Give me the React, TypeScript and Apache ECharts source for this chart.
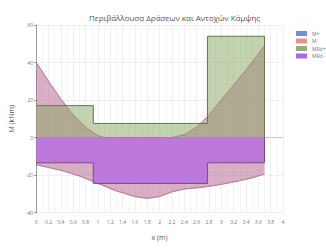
import React, { useEffect, useRef } from "react";
import * as echarts from "echarts";

const titleText = "Περιβάλλουσα Δράσεων και Αντοχών Κάμψης";
const legendNames = ["M+", "M-", "MRd+", "MRd-"];

const upperX = [0, 0.2, 0.4, 0.6, 0.8, 1.0, 1.1, 2.2, 2.4, 2.6, 2.8, 3.0, 3.2, 3.4, 3.6, 3.7];
const upperY = [40, 30, 20.5, 12, 5.5, 1, 0, 0, 1.5, 5.5, 12, 20, 28, 36, 44.5, 49];

const lowerX = [0, 0.2, 0.4, 0.7, 1.0, 1.3, 1.6, 1.8, 2.0, 2.2, 2.4, 2.7, 3.0, 3.3, 3.5, 3.7];
const lowerY = [-14.5, -16, -17.5, -20.5, -24.5, -28.5, -31.5, -32.5, -31.5, -29, -27.5, -26.5, -25, -23, -21.5, -19.5];

const resPosX = [0, 0.925, 0.925, 2.775, 2.775, 3.7, 3.7];
const resPosY = [17, 17, 7.5, 7.5, 54, 54, 0];

const resNegX = [0, 0.925, 0.925, 2.775, 2.775, 3.7, 3.7];
const resNegY = [-13.5, -13.5, -24.5, -24.5, -13.5, -13.5, 0];

const zip = (xs: number[], ys: number[]) => xs.map((x, i) => [x, ys[i]]);

const FONT = "Open Sans";

export default function App() {
  const ref = useRef<HTMLDivElement>(null);
  useEffect(() => {
    if (!ref.current) return;
    const chart = echarts.init(ref.current, null, { renderer: "svg" });
    const envLine = { color: "#b07892", width: 0.7 };
    const blueArea = { color: "rgba(100,140,220,0.26)", opacity: 1 };
    const redArea = { color: "rgba(220,100,125,0.4)", opacity: 1 };
    chart.setOption({
      animation: false,
      textStyle: { fontFamily: FONT },
      title: {
        text: titleText,
        left: 84,
        top: 8,
        textStyle: { fontSize: 8, fontWeight: "normal", color: "#555", fontFamily: FONT },
      },
      legend: {
        data: legendNames,
        orient: "vertical",
        left: 291,
        top: 26,
        itemWidth: 11,
        itemHeight: 5,
        itemGap: 2.5,
        itemStyle: { borderWidth: 0 },
        icon: "rect",
        textStyle: { fontSize: 5, color: "#777", fontFamily: FONT },
      },
      grid: { left: 35, right: 43, top: 25, bottom: 35.5 },
      xAxis: {
        type: "value",
        min: 0,
        max: 4,
        interval: 0.2,
        name: "x (m)",
        nameLocation: "middle",
        nameGap: 21,
        nameTextStyle: { fontSize: 7, color: "#555" },
        axisLine: { show: false },
        axisTick: { show: false },
        axisLabel: {
          fontSize: 5,
          color: "#777",
          margin: 7,
          formatter: (v: number) => String(parseFloat(v.toFixed(1))),
        },
        splitLine: { show: true, lineStyle: { color: "#e4e4e4", width: 0.6 } },
        minorTick: { show: false, splitNumber: 2 },
        minorSplitLine: { show: true, lineStyle: { color: "#efefef", width: 0.6 } },
      },
      yAxis: {
        type: "value",
        min: -40,
        max: 60,
        interval: 20,
        name: "M (kNm)",
        nameLocation: "middle",
        nameGap: 19,
        nameTextStyle: { fontSize: 7, color: "#555" },
        axisLine: { show: true, lineStyle: { color: "#888", width: 0.8 } },
        axisTick: { show: true, length: 2, lineStyle: { color: "#888" } },
        axisLabel: { fontSize: 5, color: "#777", margin: 3 },
        splitLine: {
          show: true,
          lineStyle: { color: ["#e4e4e4", "#e4e4e4", "#999", "#e4e4e4", "#e4e4e4", "#e4e4e4"], width: 0.6 },
        },
      },
      series: [
        {
          name: "M+",
          type: "line",
          data: zip(upperX, upperY),
          symbol: "none",
          itemStyle: { color: "#6f8fd8" },
          lineStyle: envLine,
          areaStyle: blueArea,
          z: 1,
        },
        {
          name: "M+",
          type: "line",
          data: zip(lowerX, lowerY),
          symbol: "none",
          itemStyle: { color: "#6f8fd8" },
          lineStyle: envLine,
          areaStyle: blueArea,
          z: 1,
        },
        {
          name: "M-",
          type: "line",
          data: zip(upperX, upperY),
          symbol: "none",
          itemStyle: { color: "#e8908a" },
          lineStyle: envLine,
          areaStyle: redArea,
          z: 2,
        },
        {
          name: "M-",
          type: "line",
          data: zip(lowerX, lowerY),
          symbol: "none",
          itemStyle: { color: "#e8908a" },
          lineStyle: envLine,
          areaStyle: redArea,
          z: 2,
        },
        {
          name: "MRd+",
          type: "line",
          data: zip(resPosX, resPosY),
          symbol: "none",
          itemStyle: { color: "#98ac78" },
          lineStyle: { color: "#65744f", width: 1 },
          areaStyle: { color: "rgba(135,165,95,0.5)", opacity: 1 },
          z: 3,
        },
        {
          name: "MRd-",
          type: "line",
          data: zip(resNegX, resNegY),
          symbol: "none",
          itemStyle: { color: "#a86ae0" },
          lineStyle: { color: "#7a4a90", width: 1 },
          areaStyle: { color: "rgba(175,95,232,0.68)", opacity: 1 },
          z: 4,
        },
      ],
    });
    return () => chart.dispose();
  }, []);
  return (
    <div
      ref={ref}
      style={{ position: "fixed", left: 0, top: 0, width: 326, height: 248, background: "#fff" }}
    />
  );
}
